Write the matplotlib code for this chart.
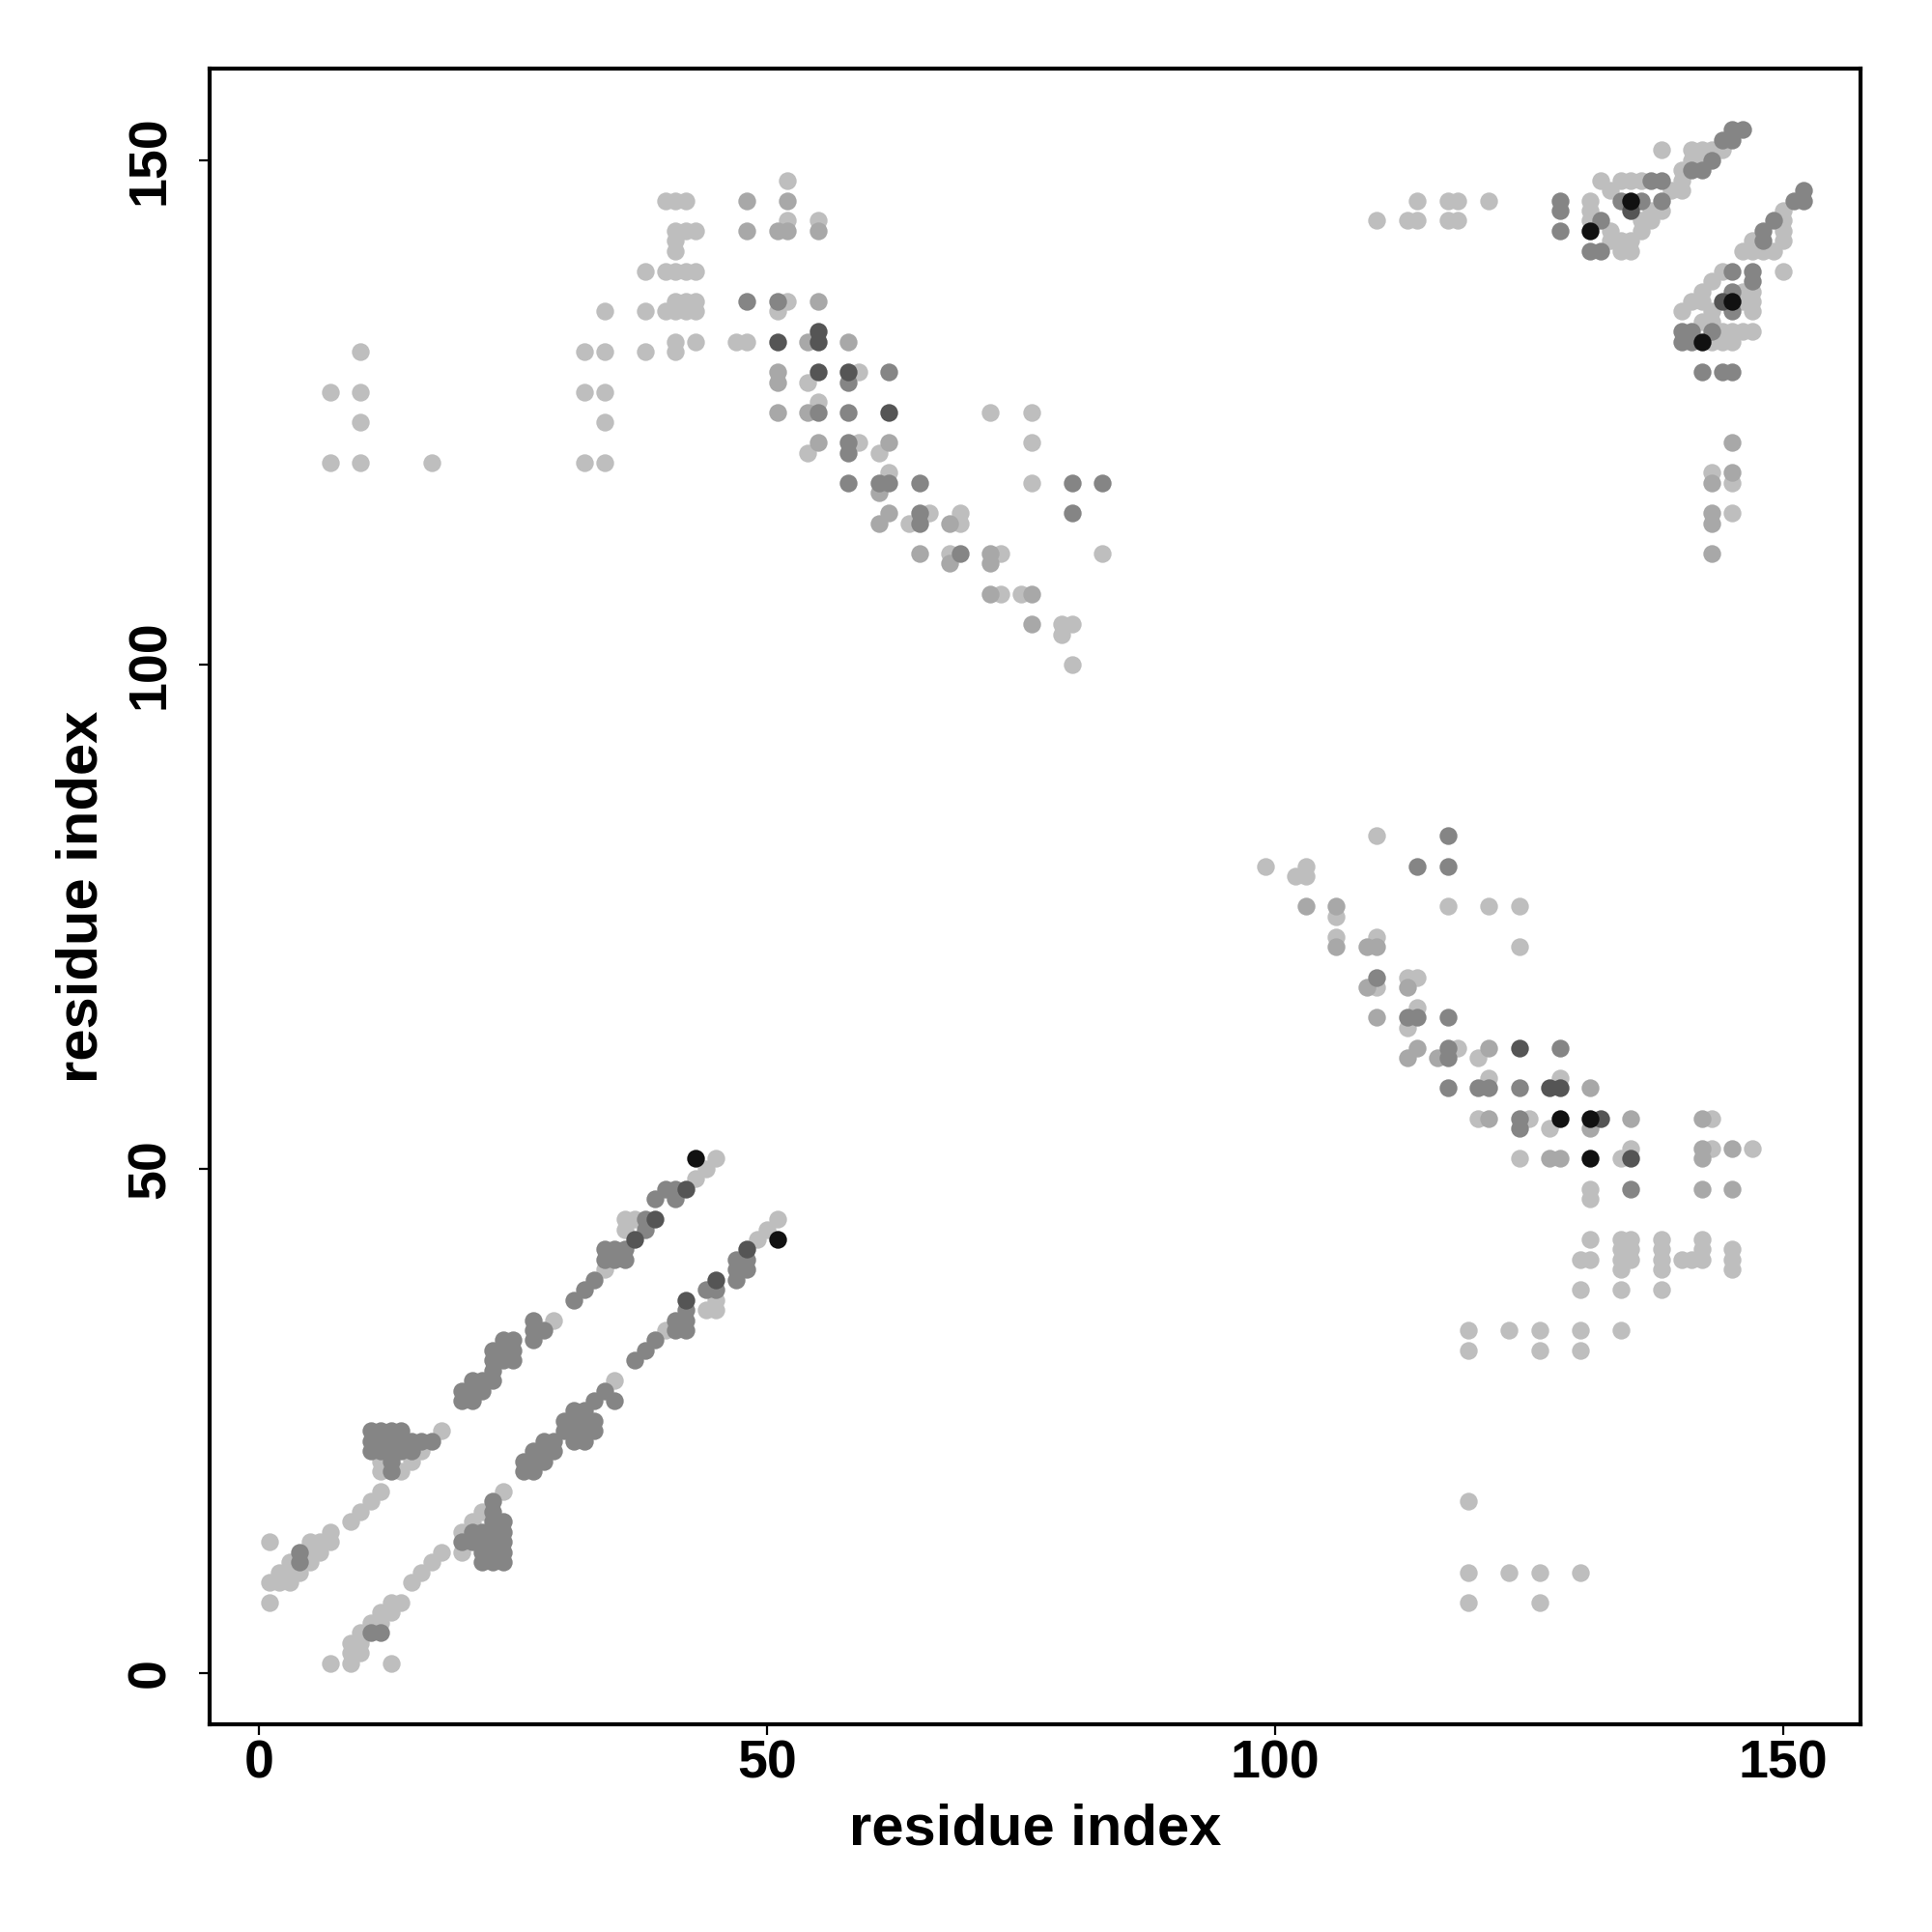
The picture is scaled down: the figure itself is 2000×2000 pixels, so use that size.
import matplotlib
matplotlib.use("Agg")
import matplotlib.pyplot as plt
import numpy as np

# Contact map: (residue i, residue j) pairs grouped by gray level (1 = lightest ... 5 = black)
level1_pairs = [
    # lower-left, upper band
    (1, 13), (1, 7), (1, 9), (2, 9), (3, 9), (2, 10), (3, 10), (4, 10), (3, 11), (5, 11), (5, 12), (6, 12),
    (5, 13), (6, 13), (7, 13), (7, 14), (9, 15), (10, 16), (11, 17), (12, 18), (12, 20), (12, 21), (14, 20),
    (15, 21), (16, 22), (18, 24), (29, 35), (34, 40), (36, 45), (36, 44), (37, 45), (43, 49), (44, 50), (45, 51),
    # lower-left, lower band
    (7, 1), (9, 1), (13, 1), (9, 2), (10, 2), (9, 3), (10, 3), (10, 4), (11, 5), (12, 5), (12, 6), (13, 6),
    (13, 7), (14, 7), (15, 9), (16, 10), (17, 11), (18, 12), (20, 14), (20, 12), (21, 15), (22, 16), (24, 18),
    (35, 29), (40, 34), (44, 36), (45, 36), (45, 37), (49, 43), (50, 44), (51, 45),
    # upper-left
    (7, 120), (10, 120), (17, 120), (32, 120), (34, 120), (34, 124), (7, 127), (10, 127), (32, 127), (34, 127),
    (10, 124), (10, 131), (32, 131), (34, 131), (34, 135), (38, 131), (38, 135), (38, 139), (41, 131), (41, 132),
    (43, 132), (40, 135), (41, 135), (42, 135), (43, 135), (41, 136), (42, 136), (43, 136), (40, 139), (41, 139),
    (42, 139), (43, 139), (41, 141), (41, 142), (41, 143), (42, 143), (43, 143), (40, 146), (41, 146), (42, 146),
    (52, 148), (52, 144), (55, 144), (52, 136), (51, 135), (47, 132), (48, 132), (54, 128), (55, 126), (59, 129),
    (72, 125), (76, 125), (54, 121), (59, 122), (61, 121), (76, 122), (62, 119), (76, 118), (66, 115), (64, 114),
    (69, 115), (69, 114), (68, 111), (73, 111), (83, 111), (73, 107), (75, 107), (79, 104), (80, 104), (79, 103),
    (80, 100),
    # upper-right
    (110, 144), (113, 144), (114, 144), (117, 144), (118, 144), (114, 146), (117, 146), (118, 146), (121, 146),
    (132, 148), (134, 148), (135, 148), (136, 148), (131, 146), (131, 145), (131, 144), (133, 143), (133, 142),
    (134, 142), (135, 142), (136, 143), (136, 144), (137, 144), (137, 145), (138, 145), (135, 141), (134, 141),
    (133, 147), (138, 151), (140, 149), (140, 148), (140, 147), (139, 147), (141, 151), (142, 151), (143, 151),
    (144, 151), (141, 150), (142, 150),
    (150, 145), (150, 144), (150, 143), (150, 142), (147, 142), (146, 141), (147, 141), (148, 141), (149, 141),
    (150, 139), (144, 139), (143, 138), (142, 137), (141, 136), (140, 135), (146, 137), (147, 137), (146, 136),
    (147, 136), (147, 135), (142, 136), (143, 135), (142, 134), (143, 134), (144, 133), (145, 133), (146, 133),
    (147, 133), (143, 132), (144, 132), (145, 132), (143, 119), (145, 118), (145, 115),
    # lower-right
    (110, 83), (99, 80), (102, 79), (103, 80), (103, 79), (106, 75), (117, 76), (121, 76), (124, 76), (124, 72),
    (106, 73), (110, 73), (110, 68), (113, 69), (114, 69), (114, 66), (113, 64), (118, 62), (120, 61), (121, 59),
    (128, 59), (120, 55), (125, 55), (127, 54), (124, 51), (134, 51), (135, 52), (143, 55), (143, 52), (147, 52),
    (131, 48), (131, 47), (131, 43), (130, 41), (131, 41), (134, 43), (135, 43), (134, 42), (135, 42), (134, 41),
    (135, 41), (134, 40), (138, 43), (138, 42), (138, 41), (138, 40), (140, 41), (141, 41), (142, 43), (142, 42),
    (142, 41), (145, 42), (145, 41), (145, 40), (130, 38), (134, 38), (138, 38), (119, 34), (123, 34), (126, 34),
    (130, 34), (134, 34), (119, 32), (126, 32), (130, 32), (119, 17), (119, 10), (123, 10), (126, 10), (130, 10),
    (119, 7), (126, 7),
]

level2_pairs = [
    (48, 146), (52, 146), (48, 143), (51, 143), (52, 143), (55, 143), (55, 136), (54, 132), (58, 132), (51, 129),
    (51, 128), (51, 125), (54, 125), (55, 122), (62, 122), (61, 117), (62, 115), (61, 114), (68, 114), (65, 111),
    (68, 110), (72, 111), (72, 110), (72, 107), (76, 107), (76, 104),
    (145, 122), (143, 118), (145, 119), (143, 115), (143, 114), (143, 111),
    (103, 76), (106, 76), (106, 72), (109, 72), (110, 72), (109, 68), (113, 68), (110, 65), (114, 62), (113, 61),
    (116, 61), (121, 62), (121, 55), (127, 51), (128, 51), (131, 54), (131, 58), (135, 55), (142, 55), (142, 52),
    (142, 51), (145, 52), (142, 48), (145, 48),
]

level3_pairs = [
    # lower-left, upper band
    (4, 12), (4, 11), (11, 24), (12, 24), (13, 24), (14, 24), (11, 23), (12, 23), (13, 23), (14, 23), (15, 23),
    (16, 23), (17, 23), (11, 22), (12, 22), (13, 22), (14, 22), (15, 22), (13, 21), (13, 20),
    (20, 27), (20, 28), (21, 27), (21, 28), (21, 29), (22, 28), (22, 29), (23, 29),
    (23, 30), (23, 31), (23, 32), (24, 31), (24, 32), (24, 33), (25, 31), (25, 32), (25, 33),
    (27, 35), (27, 33), (27, 34), (28, 34), (31, 37), (32, 38), (33, 39),
    (34, 41), (35, 41), (36, 41), (34, 42), (35, 42), (36, 42), (38, 45), (38, 44),
    (39, 47), (40, 48), (41, 48), (41, 47),
    # lower-left, lower band
    (11, 4), (12, 4), (20, 13), (21, 13), (21, 14), (22, 14), (23, 14), (24, 14), (22, 13), (23, 13), (24, 13),
    (22, 12), (23, 12), (24, 12), (22, 11), (23, 11), (24, 11), (23, 15), (24, 15), (23, 16), (23, 17),
    (26, 20), (26, 21), (27, 20), (27, 21), (27, 22), (28, 21), (28, 22), (29, 22), (28, 23), (29, 23),
    (30, 24), (31, 24), (32, 24), (30, 25), (31, 25), (32, 25), (33, 25), (31, 23), (32, 23), (33, 24),
    (31, 26), (32, 26), (33, 27), (34, 28), (35, 27), (37, 31), (38, 32), (39, 33),
    (41, 34), (42, 34), (41, 35), (42, 35), (42, 36), (44, 38), (45, 38),
    (47, 40), (48, 41), (47, 41), (48, 40), (47, 39),
    # upper-left
    (48, 136), (51, 136), (55, 125), (58, 125), (58, 128), (62, 129), (58, 122), (58, 121), (58, 118), (61, 118),
    (62, 118), (65, 118), (80, 118), (83, 118), (65, 115), (65, 114), (80, 115), (69, 111),
    # upper-right
    (128, 146), (128, 145), (128, 143), (132, 144), (131, 141), (132, 141), (134, 146), (136, 146), (138, 146),
    (137, 148), (138, 148), (141, 149), (142, 149), (143, 150), (144, 152), (145, 153), (146, 153), (145, 152),
    (152, 147), (151, 146), (152, 146), (149, 144), (148, 143), (148, 142), (145, 139), (147, 139), (147, 138),
    (145, 137), (145, 135), (140, 133), (140, 132), (141, 133), (141, 132), (143, 133), (142, 129), (144, 129),
    (145, 129),
    # lower-right
    (117, 83), (114, 80), (117, 80), (110, 69), (113, 65), (114, 65), (117, 65), (117, 62), (117, 61), (128, 62),
    (117, 58), (120, 58), (121, 58), (124, 58), (124, 55), (124, 54), (135, 48),
]

level4_pairs = [
    (37, 43), (39, 45), (42, 48), (42, 37), (45, 39), (48, 42),
    (51, 132), (55, 132), (55, 133), (55, 129), (58, 129), (62, 125),
    (135, 145), (144, 136),
    (124, 62), (127, 58), (128, 58), (132, 55), (135, 51),
]

level5_pairs = [
    (43, 51), (51, 43),
    (131, 143), (135, 146), (145, 136), (142, 132),
    (128, 55), (131, 55), (131, 51),
]

level_colors = ["#bebebe", "#a8a8a8", "#858585", "#555555", "#111111"]
tick_values = [0, 50, 100, 150]
axis_label = "residue index"

plt.rcParams["font.family"] = ["Liberation Sans", "DejaVu Sans"]
plt.rcParams["font.weight"] = "bold"

fig = plt.figure(figsize=(20, 20), dpi=100)
ax = fig.add_axes([0.1085, 0.1075, 0.8545, 0.857])

all_levels = [level1_pairs, level2_pairs, level3_pairs, level4_pairs, level5_pairs]
for pairs, col in zip(all_levels, level_colors):
    arr = np.array(pairs, dtype=float)
    ax.scatter(arr[:, 0], arr[:, 1], s=175, c=col, linewidths=0, zorder=2)

ax.set_xlim(-4.85, 157.6)
ax.set_ylim(-5.08, 159.08)
ax.set_xticks(tick_values)
ax.set_yticks(tick_values)
ax.set_xticklabels([str(v) for v in tick_values], fontsize=40, fontweight="bold")
ax.set_yticklabels([str(v) for v in tick_values], fontsize=40, fontweight="bold",
                   rotation=90, va="center")
ax.tick_params(axis="both", length=8, width=1.6, color="black")
ax.tick_params(axis="x", pad=3)
ax.tick_params(axis="y", pad=17)
for sp in ax.spines.values():
    sp.set_linewidth(3.0)
    sp.set_color("black")

ax.set_xlabel(axis_label, fontsize=43, fontweight="bold", labelpad=10)
ax.set_ylabel(axis_label, fontsize=43, fontweight="bold", labelpad=13)

fig.savefig("out.png", dpi=100, facecolor="white")
